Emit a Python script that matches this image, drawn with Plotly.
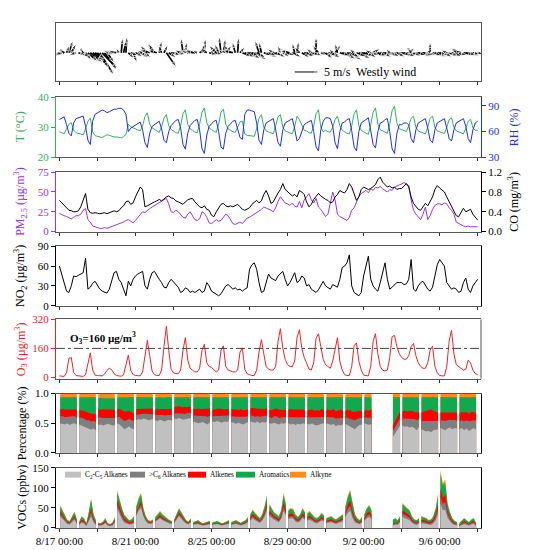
import datetime as dt
import plotly.graph_objects as go

START = dt.datetime(2019, 8, 17)
N_DAYS = 22

# ---------------- data ----------------
# wind vectors, every 3 h from 8/17 00:00 (m/s; u = eastward, v = northward)
wind_u = [
    -1.5, -1.2, -0.8, 0.6, 0.8, 1.0, -0.6, -1.4,
    1.5, 1.8, -0.5, 1.2, 2.0, 2.5, 2.2, 2.0,
    2.2, 2.8, 3.0, 2.5, 1.5, -1.2, -0.8, -1.5,
    -1.6, -0.6, 0.3, 0.6, 0.2, 1.2, 1.5, 0.8,
    1.5, 2.0, 1.8, -1.0, 1.2, -1.5, -2.0, -0.8,
    -1.2, -1.8, 0.5, -0.6, 0.8, 2.0, 1.5, 1.8,
    1.5, 2.0, 1.0, -1.2, -0.4, 0.3, -0.8, -1.8,
    -1.5, -2.0, -1.0, 1.2, 0.5, 0.2, -1.3, 1.6,
    1.0, 1.8, -1.5, -0.8, -0.4, 0.4, 1.2, -1.6,
    -1.5, -2.0, -0.6, 0.2, 1.0, 1.8, 2.0, 2.4,
    2.2, 2.8, 2.5, 1.8, -0.8, -0.5, 1.5, 2.2,
    1.6, 2.4, -1.2, 2.0, 1.0, -0.5, 1.4, 2.0,
    -1.4, -2.0, 1.8, -0.5, 0.3, -1.0, 1.6, 2.2,
    1.5, 2.2, -1.0, 1.8, 0.0, -1.2, 1.0, 2.0,
    1.4, 2.4, 2.0, -0.8, 1.2, -0.5, 2.0, 2.5,
    2.2, 2.8, 2.5, 1.5, -1.0, 1.8, 2.3, 2.6,
    2.0, 2.6, 1.6, -1.2, 1.4, 2.2, 1.8, 2.4,
    1.8, 2.5, 2.2, -0.8, 1.5, 2.0, 1.6, 2.3,
    2.4, 2.8, 1.8, 1.2, -0.6, 1.5, 2.0, 2.6,
    2.2, 2.6, 1.6, 1.0, 0.0, 1.8, 2.4, 2.0,
    2.0, 2.5, 1.5, -1.2, 1.8, 2.5, 1.6, 2.2,
    -1.6, -2.0, 2.2, 2.8, 1.6, 2.0, 1.4, 2.2,
    1.2]
wind_v = [
    -0.8, -0.5, 0.6, 1.5, 2.5, 1.8, 0.4, -0.5,
    -0.5, -0.9, 0.8, -1.5, -1.8, -2.0, -1.6, -1.2,
    -3.0, -4.5, -3.2, -3.5, -2.0, 0.4, -0.4, 0.3,
    0.4, 1.0, 3.0, 2.6, 3.3, -1.2, -0.6, -2.0,
    -0.8, -0.4, -1.0, 0.5, -1.0, 1.5, 0.6, 2.2,
    1.8, 0.5, 2.4, 1.5, 1.6, -2.9, -1.0, -0.4,
    -0.5, -0.3, 0.4, 0.6, 3.0, 2.2, 0.6, 0.3,
    0.8, 0.3, 0.5, 1.0, 1.8, 2.9, 1.0, -0.4,
    1.2, -0.3, 1.5, 1.8, 3.3, 2.9, 1.5, 0.5,
    1.6, 0.5, 2.2, 3.1, 1.2, -0.8, -0.9, -0.5,
    -1.2, -0.8, -1.4, -1.0, 2.5, 2.2, -0.6, -0.9,
    -0.6, -0.4, 0.8, -0.9, 1.0, 1.5, -0.8, -0.5,
    0.8, 0.4, -0.9, 2.0, 2.3, 1.2, -1.0, -0.6,
    -0.8, -0.4, 0.9, -0.6, 3.2, 1.5, -0.5, -0.7,
    -1.2, -0.5, -1.0, 0.8, 1.6, 1.9, -0.6, -0.8,
    -1.3, -0.8, -1.5, -1.0, 0.8, -0.8, -1.2, -0.5,
    -0.7, -0.4, -1.0, 0.6, 0.9, -0.8, -0.6, -0.3,
    -0.9, -0.3, -0.6, 0.8, -0.8, -0.5, -0.9, -0.4,
    -0.6, -0.3, -0.8, 1.0, 0.9, -0.7, -0.5, -0.4,
    -0.7, -0.4, -0.5, 0.8, 2.2, -0.6, -0.8, -0.3,
    -0.5, -0.3, -0.9, 0.6, -0.7, -0.4, -0.8, -0.5,
    1.0, 0.5, -0.4, -0.6, -0.5, -0.3, -0.4, -0.3,
    -0.3]

# 3-hourly series from 8/17 00:00 to 9/8 00:00
temp = [
    28.5, 28.2, 27.8, 29.5, 31.0, 31.5, 29.0, 28.2,
    28.0, 27.6, 27.5, 29.5, 32.0, 33.0, 28.5, 27.2,
    27.0, 26.8, 26.6, 27.0, 27.5, 27.3, 27.0, 26.8,
    26.8, 26.6, 26.5, 26.9, 27.6, 31.0, 30.2, 29.8,
    29.5, 29.0, 28.8, 30.5, 33.5, 34.8, 31.0, 29.8,
    29.2, 28.6, 28.3, 30.2, 33.0, 34.2, 30.5, 29.3,
    28.8, 28.2, 28.0, 30.5, 34.5, 35.8, 31.0, 29.5,
    29.0, 28.4, 28.2, 31.0, 35.0, 36.4, 31.5, 29.8,
    29.2, 28.6, 28.3, 31.0, 35.0, 36.0, 31.0, 29.5,
    29.0, 28.5, 28.3, 30.0, 31.8, 32.0, 27.8, 27.3,
    27.2, 27.0, 27.0, 29.5, 33.0, 34.2, 30.0, 28.8,
    28.5, 28.0, 27.8, 30.5, 33.5, 34.2, 30.0, 28.8,
    28.5, 28.0, 27.8, 30.2, 33.7, 32.5, 30.5, 29.0,
    28.8, 28.2, 28.0, 30.5, 34.5, 35.8, 30.0, 28.5,
    29.0, 28.5, 28.4, 30.0, 32.5, 33.7, 30.5, 29.0,
    28.5, 28.0, 27.8, 30.5, 34.5, 35.8, 30.5, 29.0,
    28.5, 28.0, 27.6, 30.8, 35.0, 36.4, 31.0, 29.2,
    28.8, 28.2, 28.0, 31.0, 35.5, 37.0, 31.5, 29.5,
    29.2, 28.8, 28.6, 30.5, 33.0, 33.7, 30.0, 28.8,
    28.5, 28.0, 27.8, 30.0, 33.0, 33.7, 30.0, 28.8,
    28.5, 28.0, 27.9, 30.0, 32.5, 33.1, 30.0, 28.8,
    28.5, 28.0, 27.8, 29.5, 32.0, 32.6, 29.8, 29.0,
    29.0]
rh = [
    74, 76, 77, 68, 58, 55, 70, 75,
    76, 77, 78, 66, 50, 45, 72, 80,
    82, 84, 85, 84, 82, 83, 85, 86,
    86, 87, 87, 85, 80, 60, 64, 66,
    68, 70, 71, 62, 47, 41.5, 58, 66,
    68, 71, 72, 63, 50, 47, 60, 67,
    70, 73, 74, 64, 45, 39.6, 58, 67,
    70, 73, 74, 62, 40, 34.6, 56, 66,
    69, 72, 73, 60, 42, 39.6, 58, 66,
    69, 72, 73, 64, 53, 51, 80, 85,
    85, 84, 83, 70, 50, 45, 62, 70,
    72, 74, 75, 62, 47, 43, 62, 70,
    72, 74, 75, 63, 49, 52, 60, 68,
    70, 72, 73, 60, 42, 37.6, 62, 72,
    76, 76, 75, 66, 47, 40, 60, 70,
    71, 74, 75, 61, 42, 37.6, 60, 70,
    72, 75, 76, 61, 45, 41, 60, 70,
    71, 74, 75, 60, 40, 34.6, 58, 68,
    68, 70, 70, 68, 52, 47, 62, 70,
    72, 74, 75, 64, 50, 47, 62, 70,
    72, 74, 75, 64, 52, 49, 62, 70,
    72, 74, 75, 66, 52, 47, 62, 70,
    72]
pm25 = [
    23, 21, 20, 19, 17, 16, 18, 20,
    20, 22, 27, 29, 15, 12, 7, 6,
    5, 4, 4, 5, 4, 5, 6, 7,
    8, 9, 10, 12, 14, 15, 13, 11,
    14, 18, 22, 25, 24, 27, 29, 31,
    33, 35, 37, 38, 40, 42, 35, 25,
    24, 27, 25, 21, 18, 17, 22, 25,
    20, 15, 14, 16, 25, 23, 18, 11,
    10, 12, 15, 13, 14, 18, 22, 20,
    14, 10, 9, 11, 12, 10, 13, 17,
    18, 20, 21, 24, 26, 28, 31, 30,
    29, 27, 25, 30, 38, 44, 40, 36,
    35, 33, 36, 32, 31, 38, 30, 40,
    44, 48, 40, 36, 42, 31, 28, 24,
    19, 22, 36, 50, 40, 22, 19, 17,
    15, 14, 18, 27, 30, 38, 44, 48,
    50, 52, 49, 54, 52, 56, 55, 57,
    54, 52, 50, 53, 52, 56, 58, 59,
    60, 62, 60, 58, 40, 27, 22, 18,
    15, 22, 31, 15, 20, 28, 33, 35,
    35, 34, 36, 35, 30, 27, 22, 12,
    10, 9, 7, 6, 7, 6, 6, 6,
    6]
co = [
    0.63, 0.58, 0.52, 0.46, 0.43, 0.42, 0.40, 0.40,
    0.42, 0.50, 0.65, 0.77, 0.45, 0.38, 0.37, 0.38,
    0.37, 0.36, 0.37, 0.38, 0.36, 0.38, 0.40, 0.42,
    0.40, 0.42, 0.48, 0.52, 0.60, 0.62, 0.55, 0.58,
    0.70, 0.82, 0.90, 0.85, 0.50, 0.52, 0.55, 0.58,
    0.60, 0.62, 0.65, 0.62, 0.66, 0.70, 0.72, 0.68,
    0.67, 0.62, 0.60, 0.57, 0.55, 0.60, 0.64, 0.66,
    0.67, 0.60, 0.55, 0.50, 0.48, 0.52, 0.45, 0.43,
    0.33, 0.30, 0.40, 0.48, 0.55, 0.57, 0.52, 0.50,
    0.52, 0.50, 0.53, 0.55, 0.50, 0.45, 0.43, 0.45,
    0.48, 0.55, 0.60, 0.63, 0.58, 0.62, 0.75, 0.83,
    0.72, 0.57, 0.60, 0.70, 0.78, 0.85, 0.97, 0.85,
    0.80, 0.77, 0.72, 0.75, 0.70, 0.83, 0.80, 0.75,
    0.60, 0.50, 0.55, 0.65, 0.70, 0.77, 0.72, 0.68,
    0.65, 0.63, 0.58, 0.60, 0.70, 0.75, 0.83, 0.80,
    0.78, 0.85, 0.97, 0.90, 0.75, 0.63, 0.70, 0.85,
    0.90, 0.88, 0.85, 0.87, 0.92, 0.95, 1.05, 1.10,
    1.00, 0.95, 0.90, 0.92, 0.88, 0.90, 0.85, 0.87,
    0.87, 0.92, 0.97, 0.90, 0.70, 0.57, 0.50, 0.45,
    0.43, 0.50, 0.57, 0.52, 0.60, 0.70, 0.85, 0.93,
    0.88, 0.83, 0.80, 0.70, 0.60, 0.50, 0.42, 0.32,
    0.30, 0.38, 0.47, 0.40, 0.43, 0.45, 0.35, 0.28,
    0.23]
no2 = [
    60, 48, 35, 22, 20, 30, 45, 44,
    46, 48, 50, 72, 25, 28, 34, 37,
    30, 25, 22, 20, 19, 25, 38, 50,
    52, 40, 35, 25, 15, 37, 30, 40,
    45, 48, 50, 52, 30, 25, 40, 50,
    52, 45, 40, 35, 28, 27, 35, 40,
    36, 32, 28, 20, 22, 27, 25, 20,
    22, 20, 23, 25, 20, 22, 35, 30,
    22, 20, 17, 15, 18, 25, 30, 32,
    28, 25, 27, 24, 25, 22, 25, 27,
    55, 62, 65, 55, 35, 20, 22, 35,
    48, 42, 40, 38, 45, 48, 52, 40,
    30, 35, 42, 50, 35, 38, 45, 42,
    30, 32, 25, 22, 20, 24, 30, 37,
    30, 27, 25, 32, 30, 28, 40, 58,
    60, 65, 77, 30, 20, 17, 15, 20,
    45, 60, 75, 40, 30, 25, 22, 35,
    50, 65, 40, 25, 28, 32, 35, 35,
    35, 32, 33, 40, 70, 25, 22, 30,
    35, 37, 30, 25, 22, 28, 45, 62,
    70, 65, 60, 35, 30, 25, 27, 25,
    20, 22, 35, 42, 25, 20, 30, 36,
    40]
o3 = [
    8, 6, 5, 25, 105, 110, 28, 10,
    8, 6, 5, 15, 75, 135, 40, 12,
    10, 8, 8, 18, 38, 50, 42, 20,
    10, 8, 6, 15, 75, 123, 40, 15,
    10, 8, 8, 30, 110, 205, 120, 35,
    15, 10, 10, 40, 170, 282, 150, 45,
    25, 20, 20, 40, 150, 219, 95, 50,
    40, 30, 30, 50, 150, 183, 80, 60,
    55, 40, 30, 40, 150, 174, 60, 40,
    35, 30, 30, 40, 140, 163, 45, 20,
    15, 10, 10, 40, 140, 208, 130, 60,
    45, 40, 40, 60, 200, 269, 160, 100,
    70, 60, 60, 90, 220, 263, 160, 110,
    80, 45, 40, 80, 215, 241, 170, 100,
    70, 60, 50, 90, 160, 219, 90, 40,
    15, 10, 10, 60, 175, 190, 90, 40,
    12, 8, 8, 60, 200, 241, 130, 60,
    40, 35, 40, 110, 225, 232, 170, 130,
    110, 100, 100, 120, 170, 187, 120, 80,
    60, 50, 50, 80, 150, 172, 60, 25,
    10, 8, 8, 60, 200, 260, 130, 70,
    60, 50, 40, 45, 95, 80, 40, 20,
    15]
O3_LIMIT = 160

# VOCs: 8 samples per day at these hours (None = missing)
voc_hours = [1, 4, 7, 10, 13, 16, 19, 22]
voc_total = [
    57, 45, 30, 20, 18, 30, 41, 22,
    16, 29, 25, 12, 40, 74, 35, 20,
    14, 12, 16, 25, 12, 10, 14, 28,
    94, 70, 50, 33, 25, 20, 22, 30,
    55, 75, 88, 50, 30, 20, 18, 22,
    28, 35, 42, 35, 30, 25, 20, 18,
    22, 35, 50, 40, 28, 20, 16, 25,
    15, 18, 20, 15, 12, 14, 16, 18,
    14, 16, 18, 15, 12, 14, 16, 20,
    15, 18, 20, 16, 13, 17, 20, 28,
    35, 46, 38, 30, 25, 35, 55, 83,
    60, 50, 40, 35, 30, 45, 87, 60,
    45, 50, 48, 34, 28, 35, 50, 40,
    38, 42, 35, 28, 25, 30, 38, 32,
    25, 28, 30, 25, 22, 26, 30, 35,
    55, 80, 95, 60, 35, 25, 20, 28,
    35, 50, 58, 45, None, None, None, None,
    None, None, None, None, 22, 25, 20, 30,
    62, 55, 50, 45, 30, 22, 20, 25,
    30, 28, 25, 20, 22, 30, 50, 85,
    144, 111, 120, 62, 40, 25, 18, 15,
    13, 18, 25, 20, 15, 22, 25, 12]
# composition (% of total VOCs); alkyne is the remainder to 100 %
pct_c2c5 = [
    50, 49, 48, 50, 47, 49, 50, 48,
    48, 46, 44, 42, 40, 39, 41, 38,
    47, 48, 46, 47, 49, 48, 46, 47,
    50, 48, 44, 40, 42, 45, 41, 40,
    55, 57, 56, 58, 57, 55, 56, 57,
    55, 54, 56, 55, 53, 55, 56, 54,
    58, 57, 59, 58, 56, 57, 58, 59,
    53, 52, 50, 51, 52, 50, 48, 52,
    53, 52, 54, 53, 51, 53, 52, 54,
    52, 50, 49, 51, 50, 48, 50, 52,
    53, 52, 51, 53, 50, 52, 51, 53,
    50, 49, 51, 50, 48, 50, 49, 51,
    50, 48, 49, 47, 49, 48, 50, 49,
    49, 48, 50, 47, 46, 48, 49, 50,
    50, 48, 47, 49, 45, 47, 46, 48,
    49, 47, 45, 42, 40, 44, 47, 48,
    50, 48, 47, 49, None, None, None, None,
    None, None, None, None, 27, 33, 40, 46,
    46, 44, 45, 43, 44, 42, 38, 44,
    40, 38, 36, 37, 35, 38, 39, 40,
    42, 40, 38, 41, 43, 40, 42, 41,
    40, 42, 38, 41, 37, 40, 42, 39]
pct_c6 = [
    12, 13, 12, 11, 14, 13, 12, 12,
    12, 13, 14, 13, 15, 14, 13, 14,
    12, 12, 13, 12, 11, 12, 13, 12,
    11, 12, 13, 14, 13, 12, 14, 14,
    9, 8, 9, 8, 9, 10, 9, 8,
    9, 10, 9, 9, 10, 9, 8, 10,
    9, 10, 8, 9, 10, 9, 10, 8,
    10, 11, 12, 11, 10, 12, 13, 11,
    9, 10, 9, 10, 11, 9, 10, 9,
    10, 11, 12, 10, 11, 12, 11, 10,
    10, 11, 10, 9, 11, 10, 11, 10,
    11, 10, 11, 12, 11, 10, 11, 10,
    10, 12, 11, 12, 11, 12, 10, 11,
    11, 12, 10, 12, 13, 11, 11, 10,
    10, 12, 12, 11, 13, 12, 13, 11,
    11, 12, 13, 14, 15, 13, 12, 11,
    10, 11, 12, 11, None, None, None, None,
    None, None, None, None, 10, 11, 12, 12,
    12, 14, 13, 14, 13, 15, 17, 13,
    14, 16, 18, 17, 18, 16, 15, 14,
    13, 14, 16, 14, 13, 15, 14, 13,
    14, 13, 15, 14, 16, 14, 13, 15]
pct_alkenes = [
    11, 12, 13, 12, 12, 11, 12, 13,
    13, 12, 13, 14, 12, 13, 12, 13,
    14, 13, 15, 14, 13, 13, 14, 14,
    13, 14, 15, 16, 15, 14, 14, 13,
    10, 9, 10, 9, 8, 10, 9, 10,
    9, 10, 9, 10, 11, 10, 9, 10,
    10, 11, 12, 10, 11, 12, 10, 11,
    11, 12, 13, 12, 12, 13, 14, 12,
    11, 12, 11, 12, 12, 11, 12, 11,
    12, 13, 12, 11, 13, 12, 12, 11,
    12, 13, 14, 13, 14, 13, 12, 13,
    12, 13, 12, 13, 14, 13, 12, 13,
    13, 14, 13, 14, 13, 14, 13, 12,
    12, 13, 13, 12, 13, 12, 14, 13,
    13, 12, 13, 14, 12, 13, 14, 12,
    12, 13, 14, 13, 14, 13, 12, 12,
    12, 13, 12, 13, None, None, None, None,
    None, None, None, None, 10, 11, 12, 12,
    12, 13, 12, 13, 14, 12, 13, 12,
    14, 15, 17, 18, 20, 17, 15, 14,
    13, 14, 15, 14, 12, 14, 13, 14,
    13, 14, 15, 14, 13, 15, 14, 13]
pct_aromatics = [
    21, 20, 21, 21, 21, 21, 20, 21,
    21, 23, 23, 25, 27, 28, 28, 29,
    19, 20, 18, 19, 19, 20, 19, 19,
    20, 20, 22, 24, 24, 23, 25, 27,
    20, 20, 19, 19, 20, 19, 20, 19,
    20, 20, 20, 19, 20, 20, 21, 20,
    17, 16, 15, 17, 17, 16, 16, 16,
    20, 19, 19, 20, 20, 19, 19, 19,
    21, 20, 20, 19, 20, 21, 20, 20,
    20, 20, 21, 22, 20, 22, 21, 21,
    19, 18, 19, 19, 19, 19, 20, 18,
    21, 22, 20, 19, 21, 21, 22, 20,
    21, 20, 21, 21, 21, 20, 21, 22,
    22, 21, 21, 23, 22, 23, 20, 21,
    21, 22, 22, 20, 24, 22, 21, 23,
    22, 22, 22, 25, 25, 24, 23, 23,
    22, 22, 23, 21, None, None, None, None,
    None, None, None, None, 47, 39, 30, 24,
    24, 23, 24, 24, 23, 25, 26, 25,
    26, 25, 23, 22, 21, 23, 25, 26,
    26, 26, 25, 25, 26, 25, 25, 26,
    27, 25, 26, 25, 28, 25, 25, 27]

voc_groups = ["C<sub>2</sub>-C<sub>5</sub> Alkanes", ">C<sub>6</sub> Alkanes",
              "Alkenes", "Aromatics", "Alkyne"]
x_tick_labels = ["8/17 00:00", "8/21 00:00", "8/25 00:00", "8/29 00:00", "9/2 00:00", "9/6 00:00"]

# ---------------- styling constants ----------------
FONT = "Liberation Serif"
C_T = "#35b060"
C_RH = "#2030e0"
C_PM = "#9a35ee"
C_O3 = "#e8262a"
GROUP_COLORS = ["#c0c0c0", "#7f7f7f", "#ff0000", "#12a84e", "#ff8c1a"]
W, H = 538, 550
ML, MR, MT, MB = 48, 65, 9, 30
PW, PH = W - ML - MR, H - MT - MB
HOURS_PER_MS = 6.31          # x extent of 1 m/s on the time axis


def px_x(p):
    return (p - ML) / PW


def px_y(p):
    return (H - MB - p) / PH


panels = [(9, 68), (84, 145), (160, 220), (235, 295), (309, 369), (384, 444), (459, 520)]
doms = [[px_y(b), px_y(t)] for t, b in panels]


def hourly(step, n):
    return [START + dt.timedelta(hours=step * i) for i in range(n)]


t3 = hourly(3, len(temp))

fig = go.Figure()

# ---- wind stick plot ----
wx, wy, ws = [], [], []
for t, u, v in zip(hourly(3, len(wind_u)), wind_u, wind_v):
    wx += [t, t + dt.timedelta(hours=u * HOURS_PER_MS), None]
    wy += [0, v, None]
    ws += [0, 6, 0]
fig.add_trace(go.Scatter(x=wx, y=wy, mode="lines+markers", xaxis="x", yaxis="y",
                         line=dict(color="black", width=1.7),
                         marker=dict(symbol="arrow", size=ws, color="black", angleref="previous"),
                         showlegend=False))
ref_t0 = START + dt.timedelta(days=12.38)
ref_y = -3.9
fig.add_trace(go.Scatter(x=[ref_t0, ref_t0 + dt.timedelta(hours=5 * HOURS_PER_MS)], y=[ref_y, ref_y],
                         mode="lines+markers", xaxis="x", yaxis="y",
                         line=dict(color="black", width=1),
                         marker=dict(symbol="arrow", size=[0, 5], color="black", angleref="previous"),
                         showlegend=False))

# ---- T / RH ----
fig.add_trace(go.Scatter(x=t3, y=temp, mode="lines", xaxis="x2", yaxis="y2",
                         line=dict(color=C_T, width=1), showlegend=False))
fig.add_trace(go.Scatter(x=t3, y=rh, mode="lines", xaxis="x2", yaxis="y3",
                         line=dict(color=C_RH, width=1), showlegend=False))
# ---- PM2.5 / CO ----
fig.add_trace(go.Scatter(x=t3, y=pm25, mode="lines", xaxis="x3", yaxis="y4",
                         line=dict(color=C_PM, width=1), showlegend=False))
fig.add_trace(go.Scatter(x=t3, y=co, mode="lines", xaxis="x3", yaxis="y5",
                         line=dict(color="black", width=1), showlegend=False))
# ---- NO2 ----
fig.add_trace(go.Scatter(x=t3, y=no2, mode="lines", xaxis="x4", yaxis="y6",
                         line=dict(color="black", width=1), showlegend=False))
# ---- O3 ----
fig.add_trace(go.Scatter(x=t3, y=o3, mode="lines", xaxis="x5", yaxis="y7",
                         line=dict(color=C_O3, width=1), showlegend=False))


# ---- VOC composition ----
def cumulative(parts_lists, k):
    vals = [p[k] for p in parts_lists]
    if any(v is None for v in vals):
        return None
    return sum(vals) / 100.0


n_voc = len(voc_total)
group_lists = [pct_c2c5, pct_c6, pct_alkenes, pct_aromatics]
cum = [[cumulative(group_lists[:g], k) for k in range(n_voc)] for g in range(1, 5)]
cum.append([1.0 if voc_total[k] is not None else None for k in range(n_voc)])

NH = len(voc_hours)


def polygons(values):
    """closed area polygons, one per contiguous run of samples inside a day"""
    xs, ys = [], []
    for d in range(N_DAYS):
        run = []
        for j, h in enumerate(voc_hours + [None]):
            v = values[d * NH + j] if h is not None else None
            if v is not None:
                run.append((START + dt.timedelta(days=d, hours=h), v))
            elif run:
                xs += [p[0] for p in run] + [run[-1][0], run[0][0], None]
                ys += [p[1] for p in run] + [0, 0, None]
                run = []
    return xs, ys


for g in range(4, -1, -1):
    col = GROUP_COLORS[g]
    xs, ys = polygons(cum[g])
    fig.add_trace(go.Scatter(x=xs, y=ys, mode="lines", fill="toself", fillcolor=col,
                             line=dict(color=col, width=0), xaxis="x6", yaxis="y8",
                             showlegend=False))
    vals = [None if (c is None or v is None) else c * v for c, v in zip(cum[g], voc_total)]
    xs, ys = polygons(vals)
    fig.add_trace(go.Scatter(x=xs, y=ys, mode="lines", fill="toself", fillcolor=col,
                             line=dict(color=col, width=0), xaxis="x7", yaxis="y9",
                             showlegend=False))

# ---------------- layout ----------------
xr = [START - dt.timedelta(hours=4.3), START + dt.timedelta(days=N_DAYS, hours=4.2)]
tickvals = [START + dt.timedelta(days=4 * i) for i in range(len(x_tick_labels))]
minor_vals = [START + dt.timedelta(days=4 * i + 2) for i in range(len(x_tick_labels))]
layout = dict(width=W, height=H, margin=dict(l=ML, r=MR, t=MT, b=MB),
              paper_bgcolor="white", plot_bgcolor="white",
              font=dict(family=FONT, size=11, color="black"),
              showlegend=False)

for i in range(7):
    key = "xaxis" if i == 0 else "xaxis%d" % (i + 1)
    ykey = ["y", "y2", "y4", "y6", "y7", "y8", "y9"][i]
    layout[key] = dict(domain=[0, 1], anchor=ykey, range=xr, tickmode="array",
                       tickvals=tickvals, ticktext=x_tick_labels, ticks="outside",
                       ticklen=3, tickwidth=1, tickcolor="#333",
                       minor=dict(tickmode="array", tickvals=minor_vals, ticks="outside",
                                  ticklen=3, tickwidth=1, tickcolor="#333", showgrid=False),
                       showline=True, linecolor="#555", linewidth=1,
                       mirror=True, showgrid=False, zeroline=False,
                       showticklabels=(i == 6), tickfont=dict(size=11, family=FONT),
                       **({} if i == 0 else {"matches": "x"}))


def yax(dom, anchor, rng, tv, color, fmt=None, mirror=False, side="left", overlay=None, show=True):
    d = dict(anchor=anchor, range=rng, tickvals=tv, ticks="outside" if show else "",
             ticklen=4, tickwidth=1, tickcolor=color, showline=True, linecolor=color,
             linewidth=1.3 if color != "black" else 1, mirror=mirror, showgrid=False,
             zeroline=False, side=side, showticklabels=show,
             tickfont=dict(size=11, color=color, family=FONT))
    if fmt:
        d["tickformat"] = fmt
    if overlay:
        d["overlaying"] = overlay
    else:
        d["domain"] = dom
    return d


layout["yaxis"] = yax(doms[0], "x", [-5.8, 6.06], [], "#555", mirror=True, show=False)
layout["yaxis2"] = yax(doms[1], "x2", [20, 40], [20, 30, 40], C_T)
layout["yaxis3"] = yax(None, "x2", [30, 100], [30, 60, 90], C_RH, side="right", overlay="y2")
layout["yaxis4"] = yax(doms[2], "x3", [0, 75], [0, 25, 50, 75], C_PM)
layout["yaxis5"] = yax(None, "x3", [0, 1.2], [0, 0.4, 0.8, 1.2], "black", fmt=".1f",
                       side="right", overlay="y4")
layout["yaxis6"] = yax(doms[3], "x4", [0, 90], [0, 30, 60, 90], "black", mirror=True)
layout["yaxis7"] = yax(doms[4], "x5", [-8, 320], [0, 160, 320], C_O3)
layout["yaxis8"] = yax(doms[5], "x6", [0, 1], [0, 0.5, 1.0], "black", fmt=".1f", mirror=True)
layout["yaxis9"] = yax(doms[6], "x7", [0, 150], [0, 50, 100, 150], "black", mirror=True)

shapes = [
    dict(type="line", xref="paper", yref="y7 domain", x0=1, x1=1, y0=0, y1=1,
         line=dict(color="#555", width=1)),
    dict(type="line", xref="paper", yref="y7", x0=0, x1=1, y0=O3_LIMIT, y1=O3_LIMIT,
         line=dict(color="#444", width=1, dash="dashdot")),
]

ann = []


def ytitle(text, x_px, dom, color):
    ann.append(dict(text=text, xref="paper", yref="paper", x=px_x(x_px), y=(dom[0] + dom[1]) / 2,
                    xanchor="center", yanchor="middle", textangle=-90, showarrow=False,
                    font=dict(size=12, color=color, family=FONT)))


ytitle("T (°C)", 12, doms[1], C_T)
ytitle("RH (%)", 506, doms[1], C_RH)
ytitle("PM<sub>2.5</sub> (µg/m<sup>3</sup>)", 13, doms[2], C_PM)
ytitle("CO (mg/m<sup>3</sup>)", 506, doms[2], "black")
ytitle("NO<sub>2</sub> (µg/m<sup>3</sup>)", 13, doms[3], "black")
ytitle("O<sub>3</sub> (µg/m<sup>3</sup>)", 13, doms[4], C_O3)
ytitle("Percentage (%)", 14, doms[5], "black")
ytitle("VOCs (ppbv)", 14, doms[6], "black")

ann.append(dict(text="<b>O<sub>3</sub>=%d µg/m<sup>3</sup></b>" % O3_LIMIT, xref="paper", yref="y7",
                x=px_x(60), y=215, xanchor="left", yanchor="middle", showarrow=False,
                font=dict(size=11, color="black", family=FONT)))
ann.append(dict(text="5 m/s  Westly wind", xref="x", yref="y",
                x=ref_t0 + dt.timedelta(hours=5 * HOURS_PER_MS + 3), y=ref_y,
                xanchor="left", yanchor="middle", showarrow=False,
                font=dict(size=12, color="black", family=FONT)))

leg_boxes = [(57, 73), (122, 137), (180, 198), (228, 247), (282, 298)]
leg_y = 466
for (a, b), name, col in zip(leg_boxes, voc_groups, GROUP_COLORS):
    shapes.append(dict(type="rect", xref="paper", yref="paper", x0=px_x(a), x1=px_x(b),
                       y0=px_y(leg_y + 3), y1=px_y(leg_y - 3), fillcolor=col, line=dict(width=0)))
    ann.append(dict(text=name, xref="paper", yref="paper", x=px_x(b + 1.5), y=px_y(leg_y),
                    xanchor="left", yanchor="middle", showarrow=False,
                    font=dict(size=7.3, color="black", family=FONT)))

layout["shapes"] = shapes
layout["annotations"] = ann
fig.update_layout(**layout)

for name, arr in [("temp", temp), ("rh", rh), ("pm25", pm25), ("co", co), ("no2", no2),
                  ("o3", o3), ("wu", wind_u), ("wv", wind_v)]:
    assert len(arr) == 177, (name, len(arr))
for name, arr in [("voc", voc_total), ("c2c5", pct_c2c5), ("c6", pct_c6),
                  ("ene", pct_alkenes), ("aro", pct_aromatics)]:
    assert len(arr) == 176, (name, len(arr))

fig.write_html("out.html")
